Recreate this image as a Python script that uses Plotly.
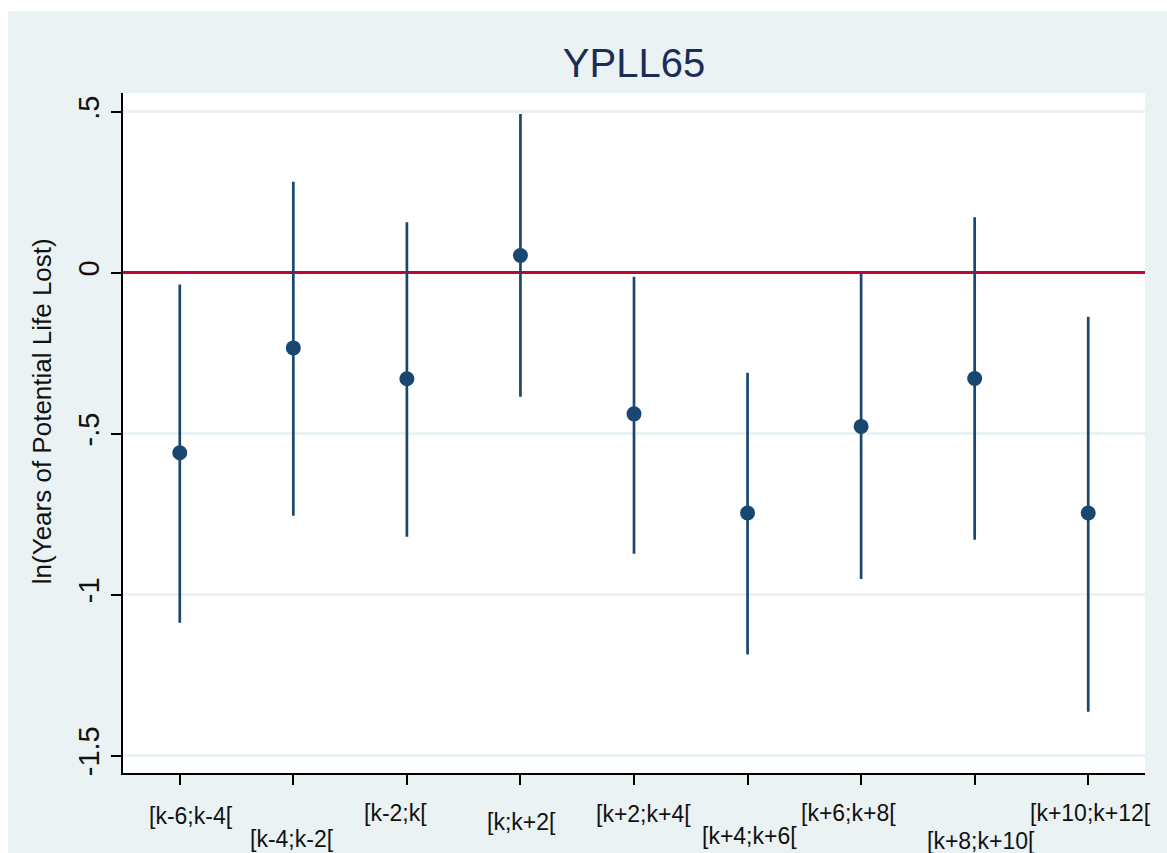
import plotly.graph_objects as go

# Event-time windows relative to reform year k
periods = ["[k-6;k-4[", "[k-4;k-2[", "[k-2;k[", "[k;k+2[", "[k+2;k+4[",
           "[k+4;k+6[", "[k+6;k+8[", "[k+8;k+10[", "[k+10;k+12["]
# Point estimates and 95% confidence bounds
estimate = [-0.559, -0.233, -0.329, 0.054, -0.438, -0.746, -0.477, -0.328, -0.746]
ci_low = [-1.087, -0.755, -0.820, -0.385, -0.873, -1.186, -0.951, -0.829, -1.364]
ci_high = [-0.036, 0.283, 0.157, 0.494, -0.012, -0.310, -0.002, 0.173, -0.136]

ytick_vals = [-1.5, -1, -0.5, 0, 0.5]
ytick_text = ["-1.5", "-1", "-.5", "0", ".5"]

NAVY = "#1a476f"
BG = "#eaf2f3"
FONT = "Liberation Sans, Arial, sans-serif"

# hand-placed offsets (px) for the staggered category labels
label_dx = [11, -1, -11, 1, 9, 2, -13, 6, 2]
label_dy = [-43, -66, -40, -49, -41, -63, -40, -68, -40]

xs = list(range(len(periods)))
err_plus = [h - e for h, e in zip(ci_high, estimate)]
err_minus = [e - l for e, l in zip(estimate, ci_low)]

fig = go.Figure()
fig.add_trace(go.Scatter(
    x=xs, y=estimate, mode="markers",
    marker=dict(size=15, color=NAVY),
    error_y=dict(type="data", symmetric=False, array=err_plus,
                 arrayminus=err_minus, thickness=2.7, width=0, color=NAVY),
    showlegend=False, hoverinfo="skip",
))

annotations = []
for i, lab in enumerate(periods):
    annotations.append(dict(
        x=i, xref="x", y=0, yref="paper", yanchor="middle", xanchor="center",
        xshift=label_dx[i], yshift=label_dy[i], text=lab, showarrow=False,
        font=dict(family=FONT, size=23, color="#111111"),
    ))
# y-axis title
annotations.append(dict(
    x=-0.0793, xref="paper", y=0.532, yref="paper", xanchor="center",
    yanchor="middle", textangle=-90, text="ln(Years of Potential Life Lost)",
    showarrow=False, font=dict(family=FONT, size=26, color="#111111"),
))

# white outer border strips (top and left)
shapes = [
    dict(type="rect", xref="paper", yref="paper", x0=-0.2, x1=1.1,
         y0=1.1201, y1=1.2, fillcolor="white", line=dict(width=0), layer="below"),
    dict(type="rect", xref="paper", yref="paper", x0=-0.2, x1=-0.1125,
         y0=-0.2, y1=1.2, fillcolor="white", line=dict(width=0), layer="below"),
]

fig.update_layout(
    width=1167, height=853,
    margin=dict(l=123, r=22, t=93, b=80),
    paper_bgcolor=BG, plot_bgcolor="white",
    title=dict(text="YPLL65", x=0.5, xref="paper", xanchor="center",
               y=1 - 63 / 853, yref="container", yanchor="middle",
               font=dict(family=FONT, size=40, color="#1c2c55")),
    annotations=annotations, shapes=shapes,
    xaxis=dict(range=[-0.5, 8.5], tickvals=xs, showticklabels=False,
               showgrid=False, zeroline=False, showline=True,
               linecolor="black", linewidth=2, ticks="outside",
               ticklen=10, tickwidth=2, tickcolor="black"),
    yaxis=dict(range=[-1.554, 0.559], tickvals=ytick_vals, ticktext=ytick_text,
               tickangle=-90, showgrid=True, gridcolor=BG, gridwidth=3,
               zeroline=True, zerolinecolor="#c10534", zerolinewidth=3,
               showline=True, linecolor="black", linewidth=2,
               ticks="outside", ticklen=10, tickwidth=2, tickcolor="black",
               tickfont=dict(family=FONT, size=29, color="#111111")),
)

fig.write_html("out.html")
